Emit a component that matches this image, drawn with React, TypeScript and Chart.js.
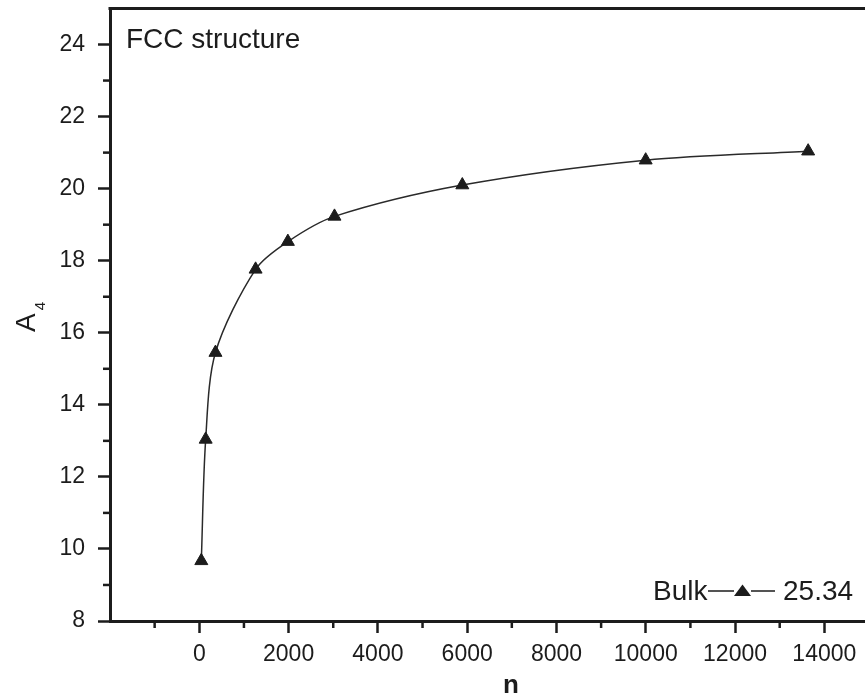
import React, { useEffect, useRef } from "react";
import { Chart, registerables } from "chart.js";

Chart.register(...registerables);

const clusterSizes: number[] = [45, 143, 362, 1261, 1984, 3028, 5891, 9998, 13637];
const a4Values: number[] = [9.67, 13.04, 15.45, 17.76, 18.53, 19.23, 20.1, 20.79, 21.04];
const xRange: number[] = [-2000, 15000];
const yRange: number[] = [8, 25];
const xMajorStep = 2000;
const yMajorStep = 2;
const panelLabel = "FCC structure";
const bulkLabel = "Bulk";
const bulkValue = "25.34";
const xTitle = "n";
const yTitleMain = "A";
const yTitleSub = "4";

const FONT = '"Liberation Sans", Arial, Helvetica, sans-serif';
const INK = "#1c1c1c";

function majorTicks(min: number, max: number, step: number) {
  const out: { value: number }[] = [];
  for (let v = min; v <= max + 1e-9; v += step) out.push({ value: v });
  return out;
}

const decorPlugin = {
  id: "decor",
  afterDraw(chart: any) {
    const ctx = chart.ctx as CanvasRenderingContext2D;
    const area = chart.chartArea;
    const xs = chart.scales.x;
    const ys = chart.scales.y;
    ctx.save();
    // top frame line
    ctx.strokeStyle = INK;
    ctx.lineWidth = 3;
    ctx.beginPath();
    ctx.moveTo(area.left - 1.5, area.top);
    ctx.lineTo(area.right, area.top);
    ctx.stroke();

    // minor ticks
    ctx.lineWidth = 2.5;
    for (let v = xs.min + xMajorStep / 2; v < xs.max; v += xMajorStep) {
      const px = xs.getPixelForValue(v);
      ctx.beginPath();
      ctx.moveTo(px, area.bottom);
      ctx.lineTo(px, area.bottom + 7);
      ctx.stroke();
    }
    for (let v = ys.min + yMajorStep / 2; v < ys.max; v += yMajorStep) {
      const py = ys.getPixelForValue(v);
      ctx.beginPath();
      ctx.moveTo(area.left - 7, py);
      ctx.lineTo(area.left, py);
      ctx.stroke();
    }

    ctx.fillStyle = INK;
    ctx.textBaseline = "alphabetic";
    ctx.textAlign = "left";

    // panel label
    ctx.font = `28px ${FONT}`;
    ctx.fillText(panelLabel, 126, 48);

    // bulk legend
    ctx.fillText(bulkLabel, 653, 600);
    ctx.lineWidth = 1.5;
    ctx.beginPath();
    ctx.moveTo(708, 591);
    ctx.lineTo(734, 591);
    ctx.moveTo(751, 591);
    ctx.lineTo(775, 591);
    ctx.stroke();
    ctx.beginPath();
    ctx.moveTo(742.5, 584.5);
    ctx.lineTo(751, 596);
    ctx.lineTo(734, 596);
    ctx.closePath();
    ctx.fill();
    ctx.fillText(bulkValue, 783, 600);

    // x title
    ctx.font = `bold 26px ${FONT}`;
    ctx.textAlign = "center";
    ctx.fillText(xTitle, 511, 693);

    // y title rotated with subscript
    ctx.translate(35, 332);
    ctx.rotate(-Math.PI / 2);
    ctx.textAlign = "left";
    ctx.font = `28px ${FONT}`;
    ctx.fillText(yTitleMain, 0, 0);
    const w = ctx.measureText(yTitleMain).width;
    ctx.font = `15px ${FONT}`;
    ctx.fillText(yTitleSub, w + 3, 10);
    ctx.restore();
  },
};

export default function App() {
  const ref = useRef<HTMLCanvasElement | null>(null);

  useEffect(() => {
    if (!ref.current) return;
    const chart = new Chart(ref.current, {
      type: "line",
      data: {
        datasets: [
          {
            data: clusterSizes.map((n, i) => ({ x: n, y: a4Values[i] })),
            borderColor: "#2a2a2a",
            borderWidth: 1.5,
            tension: 0.3,
            pointStyle: "triangle",
            pointRadius: 7.5,
            pointBackgroundColor: INK,
            pointBorderColor: INK,
            pointBorderWidth: 1,
            fill: false,
          },
        ],
      },
      options: {
        responsive: false,
        animation: false,
        layout: { padding: { left: 0, top: 7.5, right: 31, bottom: 0 } },
        plugins: {
          legend: { display: false },
          tooltip: { enabled: false },
          title: { display: false },
        },
        scales: {
          x: {
            type: "linear",
            min: xRange[0],
            max: xRange[1],
            afterBuildTicks: (s: any) => {
              s.ticks = majorTicks(xRange[0], xRange[1], xMajorStep);
            },
            afterFit: (s: any) => {
              s.height = 77;
              s.paddingLeft = 0;
              s.paddingRight = 0;
              s.paddingTop = 0;
              s.paddingBottom = 0;
            },
            border: { display: true, color: INK, width: 3 },
            grid: {
              drawOnChartArea: false,
              drawTicks: true,
              tickLength: 12,
              tickWidth: 2.5,
              tickColor: (c: any) => (c.tick && c.tick.value >= 0 ? INK : "rgba(0,0,0,0)"),
            },
            ticks: {
              autoSkip: false,
              maxRotation: 0,
              minRotation: 0,
              padding: 8,
              color: INK,
              font: { family: FONT, size: 23 },
              callback: (v: any) => (v >= 0 ? String(v) : ""),
            },
          },
          y: {
            type: "linear",
            min: yRange[0],
            max: yRange[1],
            afterBuildTicks: (s: any) => {
              s.ticks = majorTicks(yRange[0], yRange[1] - 1, yMajorStep);
            },
            afterFit: (s: any) => {
              s.width = 110;
              s.paddingLeft = 0;
              s.paddingRight = 0;
              s.paddingTop = 0;
              s.paddingBottom = 0;
            },
            border: { display: true, color: INK, width: 3 },
            grid: {
              drawOnChartArea: false,
              drawTicks: true,
              tickLength: 12,
              tickWidth: 2.5,
              tickColor: INK,
            },
            ticks: {
              autoSkip: false,
              padding: 13,
              color: INK,
              font: { family: FONT, size: 23 },
              callback: (v: any) => String(v),
            },
          },
        },
      },
      plugins: [decorPlugin],
    });
    return () => chart.destroy();
  }, []);

  return (
    <div
      style={{
        position: "fixed",
        left: 0,
        top: 0,
        width: 865,
        height: 698,
        overflow: "hidden",
        background: "#fff",
      }}
    >
      <canvas ref={ref} width={900} height={698} style={{ display: "block" }} />
    </div>
  );
}
